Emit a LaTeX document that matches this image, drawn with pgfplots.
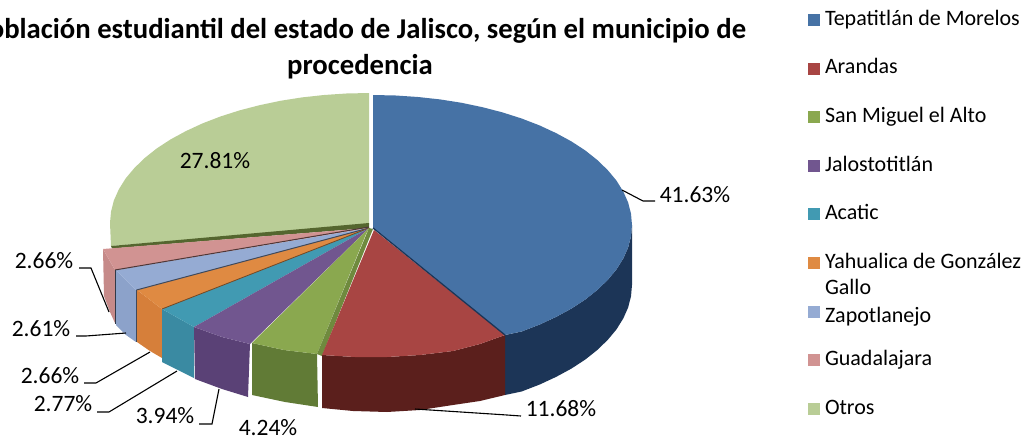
\documentclass[border=0pt]{standalone}
\usepackage{pgfplots}
\pgfplotsset{compat=1.18}
\usepackage{fontspec}
\setmainfont{Carlito}
\definecolor{blueT}{HTML}{4672A5}
\definecolor{blueS}{HTML}{1C3557}
\definecolor{redT}{HTML}{A84543}
\definecolor{redS}{HTML}{5B1F1C}
\definecolor{greenT}{HTML}{8AA84F}
\definecolor{greenS}{HTML}{617B36}
\definecolor{greenD}{HTML}{6F8A3E}
\definecolor{purT}{HTML}{71568F}
\definecolor{purS}{HTML}{5A4176}
\definecolor{tealT}{HTML}{419AB2}
\definecolor{tealS}{HTML}{3A8AA2}
\definecolor{oraT}{HTML}{DF8A42}
\definecolor{oraS}{HTML}{D67F3A}
\definecolor{lbT}{HTML}{95ABD3}
\definecolor{lbS}{HTML}{8CA2CA}
\definecolor{pinkT}{HTML}{D19392}
\definecolor{pinkS}{HTML}{C68A89}
\definecolor{otT}{HTML}{B9CD96}
\definecolor{otD}{HTML}{55662F}
\newcommand{\lab}{\fontsize{23.5}{28}\selectfont}
\begin{document}
\begin{tikzpicture}
\path[use as bounding box, clip] (0,0) rectangle (1028pt,439pt);
\begin{axis}[
  at={(0,0)}, anchor=south west,
  scale only axis, width=1028pt, height=439pt,
  xmin=0, xmax=1028, ymin=0, ymax=439, y dir=reverse,
  hide axis, clip=false,
  legend image code/.code={\fill[#1, draw=none] (0pt,-6pt) rectangle (12pt,6pt);},
  legend cell align=left,
  legend style={at={(axis cs:808,14)}, anchor=north west, draw=none, fill=none,
    font=\fontsize{22}{26}\selectfont, row sep=36.6pt, inner sep=0pt, outer sep=0pt,
    nodes={inner sep=0pt, outer sep=0pt}, /tikz/column 1/.style={column sep=5pt}},
]
\addlegendimage{fill=blueT}\addlegendentry{\smash{\raisebox{-6pt}{Tepatitlán de Morelos}}}
\addlegendimage{fill=redT}\addlegendentry{\smash{\raisebox{-6pt}{Arandas}}}
\addlegendimage{fill=greenT}\addlegendentry{\smash{\raisebox{-6pt}{San Miguel el Alto}}}
\addlegendimage{fill=purT}\addlegendentry{\smash{\raisebox{-6pt}{Jalostotitlán}}}
\addlegendimage{fill=tealT}\addlegendentry{\smash{\raisebox{-6pt}{Acatic}}}
\addlegendimage{fill=oraT}\addlegendentry{\smash{\rlap{\raisebox{-32pt}{Gallo}}\raisebox{-6pt}{Yahualica de González}}}
\addlegendimage{fill=lbT}\addlegendentry{\smash{\raisebox{-12pt}{Zapotlanejo}}}
\addlegendimage{fill=pinkT}\addlegendentry{\smash{\raisebox{-6pt}{Guadalajara}}}
\addlegendimage{fill=otT}\addlegendentry{\smash{\raisebox{-6pt}{Otros}}}

% Otros (top face and inner edge)
\addplot[forget plot, fill=otT, draw=none] coordinates {(369,225)(369,93)(346.4,93.5)(324,95)(302,97.4)(280.4,100.8)(259.5,105.2)(239.5,110.4)(220.4,116.5)(202.5,123.4)(185.9,131.1)(170.6,139.4)(156.8,148.4)(144.7,158)(134.3,168.1)(125.6,178.5)(118.8,189.4)(113.9,200.4)(111,211.7)(110,223)(110.5,234.3)(111,246)} -- cycle;
\addplot[forget plot, fill=otD, draw=none] coordinates {(111,246)(369,223)(369,228)(112,248.5)} -- cycle;

% Tepatitlan side and top
\addplot[forget plot, fill=blueS, draw=none] coordinates {(632,225)(631,236.3)(628.1,247.6)(623.2,258.6)(616.4,269.5)(607.7,279.9)(597.3,290)(585.2,299.6)(571.4,308.6)(556.1,316.9)(539.5,324.6)(521.6,331.5)(505,335)(505,395)(521.6,391.5)(539.5,384.6)(556.1,376.9)(571.4,368.6)(585.2,359.6)(597.3,350)(607.7,339.9)(616.4,329.5)(623.2,318.6)(628.1,307.6)(631,296.3)(632,285)} -- cycle;
\addplot[forget plot, fill=blueT, draw=none] coordinates {(373,228)(373,95)(395.6,95.5)(418,97)(440,99.4)(461.6,102.8)(482.5,107.2)(502.5,112.4)(521.6,118.5)(539.5,125.4)(556.1,133.1)(571.4,141.4)(585.2,150.4)(597.3,160)(607.7,170.1)(616.4,180.5)(623.2,191.4)(628.1,202.4)(631,213.7)(632,225)(631,236.3)(628.1,247.6)(623.2,258.6)(616.4,269.5)(607.7,279.9)(597.3,290)(585.2,299.6)(571.4,308.6)(556.1,316.9)(539.5,324.6)(521.6,331.5)(505,335)} -- cycle;

% Guadalajara
\addplot[forget plot, fill=pinkS, draw=none] coordinates {(103,249)(115,270)(115,323)(110,312)(104,296)} -- cycle;
\addplot[forget plot, fill=pinkT, draw=none] coordinates {(103,249)(115,270)(369,228)} -- cycle;
% Zapotlanejo
\addplot[forget plot, fill=lbS, draw=none] coordinates {(116,270)(136,290)(136,342)(126,335)(116,325)} -- cycle;
\addplot[forget plot, fill=lbT, draw=none] coordinates {(116,270)(136,290)(369,228)} -- cycle;
\addplot[forget plot, draw=black!60!pinkS, line width=1pt] coordinates {(115,270)(369,227)};
\addplot[forget plot, draw=black!65!lbS, line width=1.2pt] coordinates {(115.5,270)(115.5,324)};
% Yahualica
\addplot[forget plot, fill=oraS, draw=none] coordinates {(137,290)(162,309)(162,358)(150,351)(137,342)} -- cycle;
\addplot[forget plot, fill=oraT, draw=none] coordinates {(137,290)(162,309)(369,228)} -- cycle;
\addplot[forget plot, draw=black!55!lbS, line width=1pt] coordinates {(136.5,290)(369,228)};
\addplot[forget plot, draw=black!55!lbS, line width=1pt] coordinates {(136.5,290)(136.5,342)};
% Acatic
\addplot[forget plot, fill=tealS, draw=none] coordinates {(162,309)(194,327)(194,378)(178,370)(162,362)} -- cycle;
\addplot[forget plot, fill=tealT, draw=none] coordinates {(162,309)(194,327)(369,228)} -- cycle;
\addplot[forget plot, draw=black!45!oraS, line width=0.8pt] coordinates {(162,309)(369,228)};
% Jalostotitlan
\addplot[forget plot, fill=purS, draw=none] coordinates {(194,327)(222,337)(250,344)(248,397)(222,389)(195,379)} -- cycle;
\addplot[forget plot, fill=purT, draw=none] coordinates {(194,327)(222,337)(250,344)(369,228)} -- cycle;
% San Miguel
\addplot[forget plot, fill=greenS, draw=none] coordinates {(252,343)(284,350)(317,354)(318,407)(285,402)(252,395)} -- cycle;
\addplot[forget plot, fill=greenT, draw=none] coordinates {(252,343)(284,350)(317,354)(366,234)(369,228)} -- cycle;
\addplot[forget plot, fill=greenD, draw=none] coordinates {(369,228)(373,229)(322,356)(317,354)} -- cycle;
% Arandas
\addplot[forget plot, fill=redS, draw=none] coordinates {(322,355)(355,357)(387,357)(420,355)(453,351)(480,344)(505,335)(505,395)(480,401)(453,405)(420,410)(387,412)(353,411)(322,408)} -- cycle;
\addplot[forget plot, fill=redT, draw=none] coordinates {(374,230)(505,335)(480,344)(453,351)(420,355)(387,357)(355,357)(322,355)} -- cycle;
\addplot[forget plot, draw=blueS, line width=1.3pt] coordinates {(373,228)(505,335)};

% Leader lines
\addplot[forget plot, black, line width=1.1pt] coordinates {(622,190)(643,201)(655,201)};
\addplot[forget plot, black, line width=1.1pt] coordinates {(415,409)(507,415)(521,416)};
\addplot[forget plot, black, line width=1.1pt] coordinates {(219,389)(212,424)(199,424)};
\addplot[forget plot, black, line width=1.1pt] coordinates {(177,371)(109,412)(97,412)};
\addplot[forget plot, black, line width=1.1pt] coordinates {(150,352)(96,383)(84,383)};
\addplot[forget plot, black, line width=1.1pt] coordinates {(126,333)(86,336)(76,336)};
\addplot[forget plot, black, line width=1.1pt] coordinates {(109,312)(91,268)(79,268)};

% Data labels
\node[font=\lab] at (axis cs:695,195) {41.63\%};
\node[font=\lab] at (axis cs:561,409) {11.68\%};
\node[font=\lab, inner sep=0pt] at (axis cs:268,428) {4.24\%};
\node[font=\lab] at (axis cs:165,416) {3.94\%};
\node[font=\lab] at (axis cs:63,404) {2.77\%};
\node[font=\lab] at (axis cs:50,376) {2.66\%};
\node[font=\lab] at (axis cs:41,329) {2.61\%};
\node[font=\lab] at (axis cs:44,261) {2.66\%};
\node[font=\lab] at (axis cs:215,161) {27.81\%};

% Title
\node[font=\fontsize{28.7}{36}\selectfont\bfseries, align=center, anchor=center] at (axis cs:360,49) {Población estudiantil del estado de Jalisco, según el municipio de\\procedencia};
\end{axis}
\end{tikzpicture}
\end{document}
